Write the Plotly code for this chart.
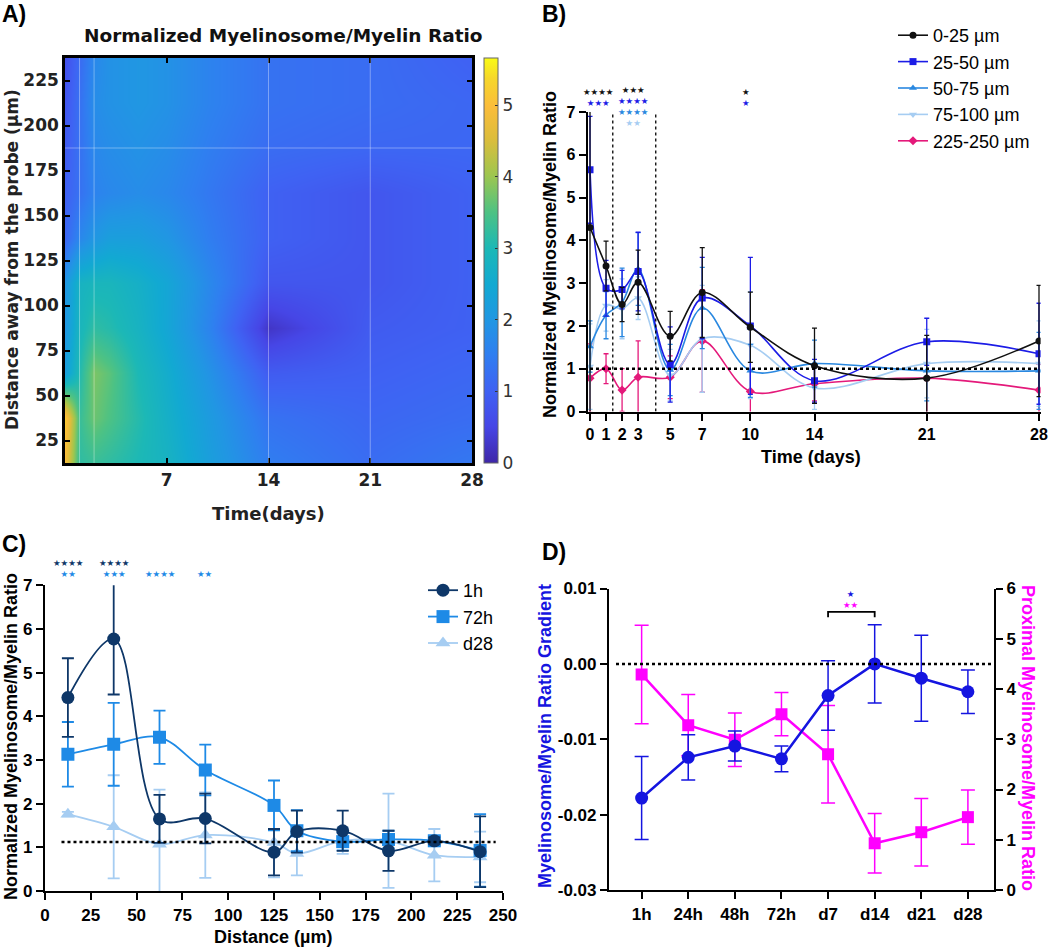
import plotly.graph_objects as go

W, H = 1050, 950

# ---------------- A) heatmap (time x distance)
heat_days = [0, 1, 2, 3, 5, 7, 10, 14, 21, 28]
heat_dist = [12.5, 37.5, 62.5, 87.5, 112.5, 137.5, 162.5, 187.5, 212.5, 237.5]
heat_ratio = [
    [4.9, 3.2, 3.3, 3.2, 3.0, 2.8, 2.2, 1.5, 1.2, 1.4],
    [5.2, 3.3, 3.7, 3.5, 3.1, 2.7, 2.1, 1.3, 1.1, 1.2],
    [2.2, 3.1, 3.8, 3.6, 3.0, 2.6, 1.9, 0.9, 1.0, 1.1],
    [2.0, 2.9, 3.2, 3.1, 2.8, 2.4, 1.6, 0.25, 0.9, 1.0],
    [2.0, 2.8, 2.9, 2.9, 2.7, 2.4, 1.7, 0.8, 0.8, 1.0],
    [1.1, 1.7, 2.0, 2.2, 2.2, 2.0, 1.5, 1.0, 0.8, 1.0],
    [1.0, 1.3, 1.6, 1.7, 1.8, 1.7, 1.4, 1.0, 0.8, 1.0],
    [0.9, 1.3, 1.7, 1.8, 1.9, 1.8, 1.5, 1.2, 1.1, 1.1],
    [0.8, 1.3, 1.8, 1.9, 2.0, 1.9, 1.6, 1.3, 1.2, 1.1],
    [0.7, 1.2, 1.7, 1.9, 2.0, 1.9, 1.6, 1.3, 1.2, 1.0],
]
heat_max = 5.66

# ---------------- B) ratio over time per distance band
b_days = [0, 1, 2, 3, 5, 7, 10, 14, 21, 28]
b_0_25 = [4.30, 3.40, 2.50, 3.02, 1.76, 2.78, 1.97, 1.07, 0.78, 1.65]
b_0_25_sd = [4.5, 0.58, 0.40, 0.75, 0.58, 1.05, 0.82, 0.88, 1.00, 1.30]
b_25_50 = [5.65, 2.88, 2.85, 3.27, 1.10, 2.65, 2.00, 0.72, 1.63, 1.35]
b_25_50_sd = [1.25, 0.65, 0.45, 0.92, 0.88, 0.95, 1.60, 0.50, 0.55, 1.18]
b_50_75 = [1.52, 2.25, 2.55, 3.33, 0.97, 2.42, 0.95, 1.12, 0.95, 0.95]
b_50_75_sd = [0.60, 0.55, 0.80, 0.85, 0.60, 0.95, 0.62, 0.55, 0.70, 0.90]
b_75_100 = [1.05, 2.48, 2.40, 2.65, 0.85, 1.70, 1.55, 0.55, 1.12, 1.12]
b_75_100_sd = [1.0, 0.6, 0.7, 0.5, 0.6, 1.25, 1.25, 0.5, 0.8, 1.0]
b_225_250 = [0.78, 1.00, 0.50, 0.80, 0.80, 1.65, 0.47, 0.65, 0.78, 0.50]
b_225_250_sd = [0.8, 0.35, 0.5, 0.85, 0.5, 1.2, 0.5, 0.4, 0.9, 0.6]

# ---------------- C) ratio over distance per time point
c_dist = [12.5, 37.5, 62.5, 87.5, 125, 137.5, 162.5, 187.5, 212.5, 237.5]
c_1h = [4.43, 5.77, 1.65, 1.66, 0.89, 1.36, 1.38, 0.92, 1.15, 0.90]
c_1h_sd = [0.90, 1.27, 0.55, 0.57, 0.53, 0.48, 0.46, 0.46, 0.08, 0.81]
c_72h = [3.13, 3.36, 3.52, 2.77, 1.96, 1.38, 1.13, 1.18, 1.15, 0.93]
c_72h_sd = [0.74, 0.95, 0.61, 0.58, 0.57, 0.47, 0.20, 0.20, 0.10, 0.83]
c_d28 = [1.76, 1.47, 1.07, 1.28, 1.11, 0.86, 1.15, 1.15, 0.82, 0.78]
c_d28_sd = [0.05, 1.18, 1.25, 0.98, 0.80, 0.50, 0.30, 1.08, 0.60, 0.58]

# ---------------- D) gradient and proximal ratio
d_labels = ["1h", "24h", "48h", "72h", "d7", "d14", "d21", "d28"]
d_gradient = [-0.0178, -0.0124, -0.0109, -0.0126, -0.0042, 0.0000, -0.0019, -0.0037]
d_gradient_sd = [0.0055, 0.0030, 0.0020, 0.0017, 0.0046, 0.0052, 0.0057, 0.0029]
d_proximal = [4.29, 3.28, 2.99, 3.50, 2.70, 0.93, 1.15, 1.45]
d_proximal_sd = [0.98, 0.61, 0.53, 0.43, 0.97, 0.59, 0.67, 0.54]

ARIAL = "Liberation Sans, Arial, sans-serif"
DEJAVU = "DejaVu Sans, Verdana, sans-serif"

parula = [
    [0.00, "#3e26a8"], [0.09, "#4646e6"], [0.18, "#3f62f3"], [0.27, "#2f7ff0"],
    [0.35, "#2196e3"], [0.44, "#12a9d2"], [0.53, "#1cb8b6"], [0.62, "#4ec283"],
    [0.71, "#9ec64f"], [0.80, "#dcbd3c"], [0.88, "#fbbd3b"], [0.95, "#f6d72a"],
    [1.00, "#f9fb15"],
]


def px(p):
    return p / W


def py(p):
    return 1 - p / H


fig = go.Figure()

fig.add_trace(go.Heatmap(
    x=heat_days, y=heat_dist, z=heat_ratio, zmin=0, zmax=heat_max,
    zsmooth="best", colorscale=parula, xaxis="x", yaxis="y", hoverinfo="skip",
    colorbar=dict(x=px(484), xanchor="left", y=py(463), yanchor="bottom",
                  len=(463 - 58) / H, thickness=14, xpad=0, ypad=0,
                  outlinewidth=1, outlinecolor="#666", tickvals=[0, 1, 2, 3, 4, 5],
                  ticks="inside", ticklen=3, tickcolor="#333",
                  tickfont=dict(family=DEJAVU, size=17, color="#333")),
))

# B traces (drawn bottom-up so black ends on top)
b_series = [
    ("225-250 µm", b_225_250, b_225_250_sd, "#e4197a", "diamond", 5),
    ("75-100 µm", b_75_100, b_75_100_sd, "#a6cdf2", "triangle-down", 4),
    ("50-75 µm", b_50_75, b_50_75_sd, "#2a88e0", "triangle-up", 3),
    ("25-50 µm", b_25_50, b_25_50_sd, "#1c1ce6", "square", 2),
    ("0-25 µm", b_0_25, b_0_25_sd, "#111111", "circle", 1),
]
for name, vals, sd, col, sym, rank in b_series:
    fig.add_trace(go.Scatter(
        x=b_days, y=vals, name=name, mode="lines+markers", legend="legend",
        legendrank=rank, xaxis="x2", yaxis="y2",
        line=dict(color=col, width=1.6, shape="spline", smoothing=1.0),
        marker=dict(color=col, symbol=sym, size=7),
        error_y=dict(type="data", array=sd, color=col, thickness=1.3, width=2.5),
    ))

c_series = [
    ("d28", c_d28, c_d28_sd, "#a6cdf2", "triangle-up", 3),
    ("72h", c_72h, c_72h_sd, "#1e8ae6", "square", 2),
    ("1h", c_1h, c_1h_sd, "#0e3768", "circle", 1),
]
for name, vals, sd, col, sym, rank in c_series:
    fig.add_trace(go.Scatter(
        x=c_dist, y=vals, name=name, mode="lines+markers", legend="legend2",
        legendrank=rank, xaxis="x3", yaxis="y3",
        line=dict(color=col, width=1.8, shape="spline", smoothing=1.0),
        marker=dict(color=col, symbol=sym, size=13),
        error_y=dict(type="data", array=sd, color=col, thickness=1.8, width=6),
    ))

fig.add_trace(go.Scatter(
    x=d_labels, y=d_proximal, mode="lines+markers", showlegend=False,
    xaxis="x4", yaxis="y4",
    line=dict(color="#ff00ff", width=2.5), marker=dict(color="#ff00ff", symbol="square", size=12),
    error_y=dict(type="data", array=d_proximal_sd, color="#ff00ff", thickness=1.5, width=7),
))
fig.add_trace(go.Scatter(
    x=d_labels, y=d_gradient, mode="lines+markers", showlegend=False,
    xaxis="x4", yaxis="y5",
    line=dict(color="#1515e0", width=2.5), marker=dict(color="#1515e0", symbol="circle", size=13),
    error_y=dict(type="data", array=d_gradient_sd, color="#1515e0", thickness=1.5, width=7),
))

# ---------------- axes
heat_tick = dict(family=DEJAVU, size=17, color="#222", weight="bold")
frame = dict(showline=True, linecolor="black", linewidth=2.5, mirror="ticks",
             ticks="inside", ticklen=5, tickwidth=2, tickcolor="black",
             showgrid=False, zeroline=False, tickfont=heat_tick, automargin=False)
plain = dict(showline=True, linecolor="black", linewidth=2.2, ticks="outside",
             ticklen=7, tickwidth=2.2, tickcolor="black", showgrid=False,
             zeroline=False, automargin=False)
tick16 = dict(family=ARIAL, size=16, color="black", weight="bold")
tick17 = dict(family=ARIAL, size=17, color="black", weight="bold")

B_DOM = [py(411.5), py(112)]
C_DOM = [py(891), py(585.3)]
D_DOM = [py(890), py(588.5)]
B_RNG = [0, 7]
C_RNG = [0, 7]
D_RNG = [-0.03, 0.01]

fig.update_layout(
    width=W, height=H, margin=dict(l=0, r=0, t=0, b=0, autoexpand=False),
    paper_bgcolor="white", plot_bgcolor="white",
    xaxis=dict(domain=[px(65), px(472)], range=[0, 28], tickvals=[7, 14, 21, 28],
               anchor="y", **frame),
    yaxis=dict(domain=[py(463), py(58)], range=[12.5, 237.5],
               tickvals=[25, 50, 75, 100, 125, 150, 175, 200, 225], anchor="x", **frame),
    xaxis2=dict(domain=[px(587.6), px(1040.6)], range=[-0.15, 28.1], tickvals=b_days,
                anchor="y2", tickfont=tick16, **plain),
    yaxis2=dict(domain=B_DOM, range=B_RNG, dtick=1, anchor="x2",
                tickfont=tick16, **plain),
    xaxis3=dict(domain=[px(45), px(503)], range=[0, 250], dtick=25, anchor="y3",
                tickfont=tick17, **plain),
    yaxis3=dict(domain=C_DOM, range=C_RNG, dtick=1, anchor="x3",
                tickfont=tick17, **plain),
    xaxis4=dict(domain=[px(609), px(994)], type="category", range=[-0.7, 7.56],
                anchor="y4", tickfont=tick17, **plain),
    yaxis4=dict(domain=D_DOM, range=[0, 6], dtick=1, side="right",
                anchor="x4", tickfont=tick17, **plain),
    yaxis5=dict(overlaying="y4", range=D_RNG, side="left", anchor="x4",
                tickvals=[-0.03, -0.02, -0.01, 0, 0.01],
                ticktext=["-0.03", "-0.02", "-0.01", "0.00", "0.01"],
                tickfont=tick17, **plain),
    legend=dict(x=px(893), y=py(17), xanchor="left", yanchor="top",
                font=dict(family=ARIAL, size=18, color="black"), bgcolor="rgba(0,0,0,0)"),
    legend2=dict(x=px(423), y=py(572), xanchor="left", yanchor="top",
                 font=dict(family=ARIAL, size=18, color="black"), bgcolor="rgba(0,0,0,0)"),
)

# ---------------- reference lines / brackets
b_split_days = [1.42, 4.1]
c_baseline = 1.12
bracket_y = 0.0069
shapes = []
for d in [1, 2, 14, 21]:
    shapes.append(dict(type="line", xref="x", yref="y", x0=d, x1=d, y0=12.5, y1=237.5,
                       line=dict(color="rgba(255,255,255,0.35)", width=1)))
shapes.append(dict(type="line", xref="x", yref="y", x0=0, x1=28, y0=187.5, y1=187.5,
                   line=dict(color="rgba(255,255,255,0.35)", width=1)))
for d in b_split_days:
    shapes.append(dict(type="line", xref="x2", yref="y2", x0=d, x1=d, y0=0, y1=7,
                       line=dict(color="black", width=1.3, dash="dot")))
shapes.append(dict(type="line", xref="x2", yref="y2", x0=0, x1=28, y0=1, y1=1,
                   line=dict(color="black", width=2.5, dash="dot")))
shapes.append(dict(type="line", xref="x3", yref="y3", x0=9, x1=246, y0=c_baseline, y1=c_baseline,
                   line=dict(color="black", width=2.5, dash="dot")))
shapes.append(dict(type="line", xref="x4", yref="y5", x0=-0.55, x1=7.56, y0=0, y1=0,
                   line=dict(color="black", width=2.5, dash="dot")))
shapes.append(dict(type="path", xref="x4", yref="y5",
                   path=f"M 4,{bracket_y - 0.0007} L 4,{bracket_y} L 5,{bracket_y} L 5,{bracket_y - 0.0007}",
                   line=dict(color="black", width=1.8)))
fig.update_layout(shapes=shapes)

# ---------------- text
ann = []


def label(x, y, text, size=18, color="black", family=ARIAL, angle=0, xanchor="center", bold=True):
    ann.append(dict(x=x, y=y, xref="paper", yref="paper", text=text, showarrow=False,
                    textangle=angle, xanchor=xanchor, yanchor="middle",
                    font=dict(family=family, size=size, color=color,
                              weight="bold" if bold else "normal")))


def star_stack(x, xref, yval, dom, rng, rows):
    # significance stars sit above the axis top, so place them in paper y
    yp = dom[0] + (yval - rng[0]) / (rng[1] - rng[0]) * (dom[1] - dom[0])
    text = "<br>".join(f"<span style='color:{c}'>{'★' * n}</span>" for n, c in rows)
    ann.append(dict(x=x, y=yp, xref=xref, yref="paper", text=text, showarrow=False,
                    xanchor="center", yanchor="middle",
                    font=dict(family=DEJAVU, size=8.5)))


label(0, py(14), "A)", size=23, xanchor="left")
label(px(540), py(14), "B)", size=23, xanchor="left")
label(0, py(544), "C)", size=23, xanchor="left")
label(px(540), py(552), "D)", size=23, xanchor="left")

label(px(283), py(35), "Normalized Myelinosome/Myelin Ratio", size=18.5, color="#111", family=DEJAVU)
label(px(12), py(260), "Distance away from the probe (µm)", size=17, color="#222", family=DEJAVU, angle=-90)
label(px(268), py(513), "Time(days)", size=18, color="#222", family=DEJAVU)

label(px(550), py(255), "Normalized Myelinosome/Myelin Ratio", size=18, angle=-90)
label(px(811), py(457), "Time (days)", size=18)
label(px(11), py(737), "Normalized Myelinosome/Myelin Ratio", size=18, angle=-90)
label(px(273), py(937), "Distance (µm)", size=18)
label(px(545), py(736), "Myelinosome/Myelin Ratio Gradient", size=18, color="#1515e0", angle=-90)
label(px(1028), py(738), "Proximal Myelinosome/Myelin Ratio", size=18, color="#ff00ff", angle=90)

star_stack(0.55, "x2", 7.35, B_DOM, B_RNG, [(4, "#111111"), (3, "#1c1ce6")])
star_stack(2.7, "x2", 7.13, B_DOM, B_RNG,
           [(3, "#111111"), (4, "#1c1ce6"), (4, "#2a88e0"), (2, "#a6cdf2")])
star_stack(9.7, "x2", 7.35, B_DOM, B_RNG, [(1, "#111111"), (1, "#1c1ce6")])

star_stack(12.6, "x3", 7.375, C_DOM, C_RNG, [(4, "#0e3768"), (2, "#1e8ae6")])
star_stack(37.7, "x3", 7.375, C_DOM, C_RNG, [(4, "#0e3768"), (3, "#1e8ae6")])
star_stack(62.8, "x3", 7.26, C_DOM, C_RNG, [(4, "#1e8ae6")])
star_stack(87.4, "x3", 7.26, C_DOM, C_RNG, [(2, "#1e8ae6")])

star_stack(4.5, "x4", 0.00855, D_DOM, D_RNG, [(1, "#1515e0"), (2, "#ff00ff")])

fig.update_layout(annotations=ann)

# page body margin would otherwise offset the 1050x950 figure
fig.write_html("out.html", config={"displayModeBar": False},
               post_script="document.body.style.margin='0';")
